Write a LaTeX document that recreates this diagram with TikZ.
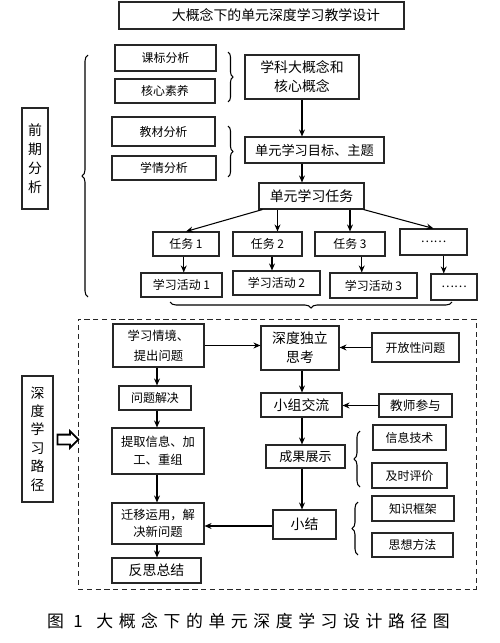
\documentclass[tikz,border=0pt]{standalone}
\usepackage{fontspec}
\setmainfont{Noto Sans CJK SC}
\usetikzlibrary{arrows.meta,positioning,calc,shapes.arrows,decorations.pathreplacing}

\begin{document}
\begin{tikzpicture}[x=0.2mm, y=-0.2mm,
  box/.style={draw=black!85, line width=0.6pt, inner sep=0pt, align=center, font=\fontsize{6.8}{10.5}\selectfont},
  bigbox/.style={box, font=\fontsize{7.9}{10.8}\selectfont},
  sz/.style 2 args={minimum width=#1*0.2mm, minimum height=#2*0.2mm},
  arrow/.style={-{Stealth[length=4pt,width=3.4pt]}, line width=0.6pt},
  curly/.style={decorate, decoration={brace, amplitude=#1}, line width=0.6pt},
]
\useasboundingbox (0,0) rectangle (500,643);

% Title
\node[bigbox, sz={285}{27}] (title) at (261.5,15.5) {\hspace*{5.8mm}大概念下的单元深度学习教学设计};

% Analysis side
\node[bigbox, sz={26}{101}] (qq) at (35,158.5) {前\\期\\分\\析};
\node[box, sz={101}{26}] (kb) at (165.5,58) {课标分析};
\node[box, sz={100}{24}] (hx) at (165,91) {核心素养};
\node[box, sz={103}{29}] (jc) at (163.5,131.5) {教材分析};
\node[box, sz={104}{24}] (xq) at (164,168) {学情分析};

\node[bigbox, sz={114}{44}] (dgn) at (302,77) {学科大概念和\\核心概念};
\node[bigbox, sz={139}{26}, font=\fontsize{7.5}{10}\selectfont] (mb) at (314.5,150) {单元学习目标、主题};
\node[bigbox, sz={105}{26}] (rw) at (311.5,196) {单元学习任务};

% Tasks and activities
\node[box, sz={66}{24}] (t1) at (186,244) {任务 1};
\node[box, sz={69}{24}] (t2) at (267.5,244) {任务 2};
\node[box, sz={70}{24}] (t3) at (350,244) {任务 3};
\node[box, sz={67}{26}] (t4) at (433.5,242) {……};
\node[box, sz={81}{24}] (a1) at (181.5,285) {学习活动 1};
\node[box, sz={87}{24}] (a2) at (276.5,283) {学习活动 2};
\node[box, sz={87}{25}] (a3) at (373.5,285.5) {学习活动 3};
\node[box, sz={46}{26}] (a4) at (454,287) {……};

% Arrows (analysis)
\draw[arrow] (dgn.south -| 302,0) -- (302,0 |- mb.north);
\draw[arrow] (mb.south -| 302,0) -- (302,0 |- rw.north);
\draw[arrow] ([xshift=0.8mm]rw.south west) -- (t1.north);
\draw[arrow] ([xshift=2mm]t2.north |- rw.south) -- ([xshift=2mm]t2.north);
\draw[arrow] (rw.south -| t3.north) -- (t3.north);
\draw[arrow] ([xshift=-0.2mm]rw.south east) -- (t4.north);
\foreach \i in {1,...,4} {
  \coordinate (m\i) at ($(t\i.south)!.5!(a\i.north)$);
  \draw[arrow] (m\i |- t\i.south) -- (m\i |- a\i.north);
}

% Braces (analysis)
\draw[curly=1mm] (228,52) -- (228,102);
\draw[curly=1mm] (228,126) -- (228,177);
\draw[curly=1.2mm] (88,297) -- (88,55);
\draw[curly=1.2mm] (452,302) -- (170,302);

% Deep learning path
\node[draw=black!85, densely dashed, line width=0.5pt, sz={398}{270}] (frame) at (277,454) {};
\node[bigbox, sz={31}{126}, font=\fontsize{7.9}{10.5}\selectfont] (sd) at (37.5,439) {深\\度\\学\\习\\路\\径};
\node[single arrow, draw, line width=1pt, minimum height=4.2mm, minimum width=3mm,
  single arrow head extend=0.7mm, inner sep=0.8mm] (ha) at (65.5,439.5) {};

\node[box, sz={91}{43}, font=\fontsize{7}{11.3}\selectfont] (qj) at (158.5,345.5) {学习情境、\\提出问题};
\node[bigbox, sz={78}{44}] (dl) at (300,348) {深度独立\\思考};
\node[box, sz={87}{29}] (kf) at (415.5,347.5) {开放性问题};
\node[box, sz={72}{24}] (wj) at (155,398) {问题解决};
\node[bigbox, sz={81}{24}] (xz) at (301.5,405) {小组交流};
\node[box, sz={73}{23}, font=\fontsize{7.2}{10}\selectfont] (js) at (415.5,405.5) {教师参与};
\node[box, sz={92}{46}, font=\fontsize{7}{10.3}\selectfont] (tq) at (158,451) {提取信息、加\\工、重组};
\node[bigbox, sz={79}{23}, font=\fontsize{7.4}{10}\selectfont] (cg) at (305.5,456.5) {成果展示};
\node[box, sz={73}{25}] (xx) at (409.5,437.5) {信息技术};
\node[box, sz={75}{25}] (jp) at (409.5,475.5) {及时评价};
\node[box, sz={92}{41}, font=\fontsize{7}{9.8}\selectfont] (qy) at (158,523.5) {迁移运用，解\\决新问题};
\node[bigbox, sz={63}{29}] (xj) at (304.5,524.5) {小结};
\node[box, sz={82}{25}] (zs) at (413,508.5) {知识框架};
\node[box, sz={81}{24}] (sx) at (412.5,545) {思想方法};
\node[bigbox, sz={89}{25}] (fs) at (156.5,570.5) {反思总结};

% Arrows (path)
\draw[arrow] (qj.east) -- (dl.west |- qj.east);
\draw[arrow] (kf.west) -- (dl.east |- kf.west);
\draw[arrow] (dl.south -| 302,0) -- (302,0 |- xz.north);
\draw[arrow] (js.west) -- (xz.east |- js.west);
\draw[arrow] (xz.south -| 302,0) -- (302,0 |- cg.north);
\draw[arrow] (cg.south -| 302,0) -- (302,0 |- xj.north);
\draw[arrow] ([yshift=-0.3mm]xj.west) -- ([yshift=-0.3mm]xj.west -| qy.east);
\draw[arrow] (qj.south -| 157,0) -- (157,0 |- wj.north);
\draw[arrow] (wj.south -| 157,0) -- (157,0 |- tq.north);
\draw[arrow] (tq.south -| 157,0) -- (157,0 |- qy.north);
\draw[arrow] (qy.south -| 157,0) -- (157,0 |- fs.north);

% Braces (path)
\draw[curly=1.2mm] (360,487) -- (360,431);
\draw[curly=1.2mm] (358,555) -- (358,502);

% Caption
\node[font=\fontsize{9.6}{11}\selectfont\addfontfeature{LetterSpace=33}] (cap) at (248.5,621) {图 1\hspace{0.8em}大概念下的单元深度学习设计路径图};

\end{tikzpicture}
\end{document}
